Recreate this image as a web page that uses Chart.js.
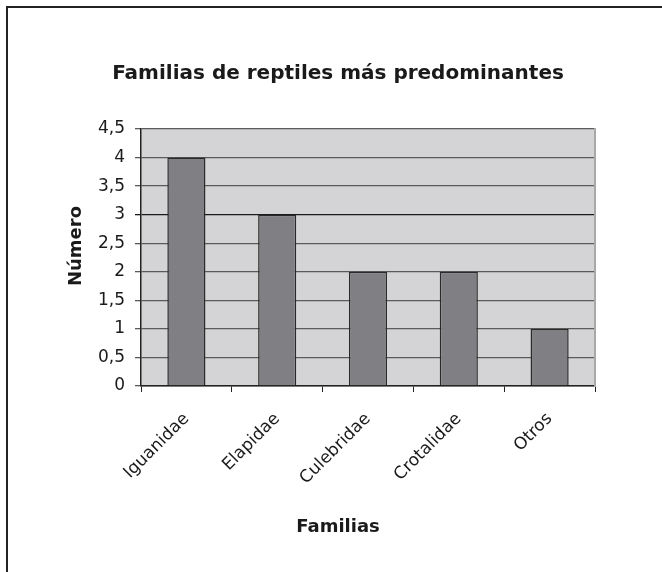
<!DOCTYPE html>
<html>
<head>
<meta charset="utf-8">
<script src="https://cdn.jsdelivr.net/npm/chart.js@4.4.1/dist/chart.umd.min.js"></script>
<style>
  html, body { margin: 0; padding: 0; background: #fff; }
  canvas { display: block; }
</style>
</head>
<body>
<canvas id="chart" width="662" height="572"></canvas>
<script>
// Data
const familias = ['Iguanidae', 'Elapidae', 'Culebridae', 'Crotalidae', 'Otros'];
const numero = [4, 3, 2, 2, 1];
const yTicks = [0, 0.5, 1, 1.5, 2, 2.5, 3, 3.5, 4, 4.5];

const FONT = "'DejaVu Sans', Arial, sans-serif";

// Gray plot background, frame lines and rotated y title
const decorPlugin = {
  id: 'decor',
  beforeDraw(chart) {
    const { ctx, chartArea: a } = chart;
    ctx.save();
    ctx.fillStyle = '#d4d4d6';
    ctx.fillRect(a.left, a.top, a.right - a.left, a.bottom - a.top);
    ctx.restore();
  },
  afterDraw(chart) {
    const { ctx } = chart;
    ctx.save();
    ctx.strokeStyle = '#222';
    ctx.lineWidth = 2;
    ctx.beginPath();
    ctx.moveTo(7, 572);
    ctx.lineTo(7, 7);
    ctx.lineTo(662, 7);
    ctx.stroke();

    ctx.translate(76, 246);
    ctx.rotate(-Math.PI / 2);
    ctx.fillStyle = '#1a1a1a';
    ctx.font = 'bold 18px ' + FONT;
    ctx.textAlign = 'center';
    ctx.textBaseline = 'middle';
    ctx.fillText('Número', 0, 0);
    ctx.restore();
  }
};

new Chart(document.getElementById('chart'), {
  type: 'bar',
  data: {
    labels: familias,
    datasets: [{
      data: numero,
      backgroundColor: '#808084',
      borderColor: '#2a2a2a',
      borderWidth: 1.5,
      categoryPercentage: 1,
      barPercentage: 0.42
    }]
  },
  options: {
    responsive: false,
    animation: false,
    devicePixelRatio: 1,
    layout: { padding: { left: 14, right: 0, top: 0, bottom: 0 } },
    plugins: {
      legend: { display: false },
      tooltip: { enabled: false },
      title: {
        display: true,
        text: 'Familias de reptiles más predominantes',
        color: '#1a1a1a',
        font: { family: FONT, size: 20, weight: 'bold', lineHeight: 1.2 },
        padding: { top: 62, bottom: 43 }
      },
      subtitle: {
        display: true,
        position: 'bottom',
        text: 'Familias',
        color: '#1a1a1a',
        font: { family: FONT, size: 18, weight: 'bold', lineHeight: 1.2 },
        padding: { top: 20, bottom: 34 }
      }
    },
    scales: {
      x: {
        afterFit(scale) { scale.height = 572 - 386 - 75.6; },
        grid: {
          display: true,
          offset: true,
          drawOnChartArea: false,
          drawTicks: true,
          tickLength: 6,
          color: '#222'
        },
        border: { display: true, color: '#222', width: 1.5 },
        ticks: {
          autoSkip: false,
          minRotation: 45,
          maxRotation: 45,
          padding: 17,
          color: '#1a1a1a',
          font: { family: FONT, size: 17 }
        }
      },
      y: {
        min: 0,
        max: 4.5,
        afterFit(scale) { scale.width = 127; },
        afterBuildTicks(scale) { scale.ticks = yTicks.map(v => ({ value: v })); },
        grid: {
          color: ctx => (ctx.tick && ctx.tick.value === 3 ? '#1a1a1a' : '#5a5a5a'),
          lineWidth: 1.3,
          drawTicks: true,
          tickLength: 6
        },
        border: { display: true, color: '#222', width: 1.5 },
        ticks: {
          padding: 10,
          color: '#1a1a1a',
          font: { family: FONT, size: 17 },
          callback: v => String(v).replace('.', ',')
        }
      },
      y2: {
        position: 'right',
        min: 0,
        max: 4.5,
        afterFit(scale) { scale.width = 67; },
        grid: { display: false },
        ticks: { display: false },
        border: { display: true, color: '#a8a8a8', width: 2 }
      }
    }
  },
  plugins: [decorPlugin]
});
</script>
</body>
</html>
